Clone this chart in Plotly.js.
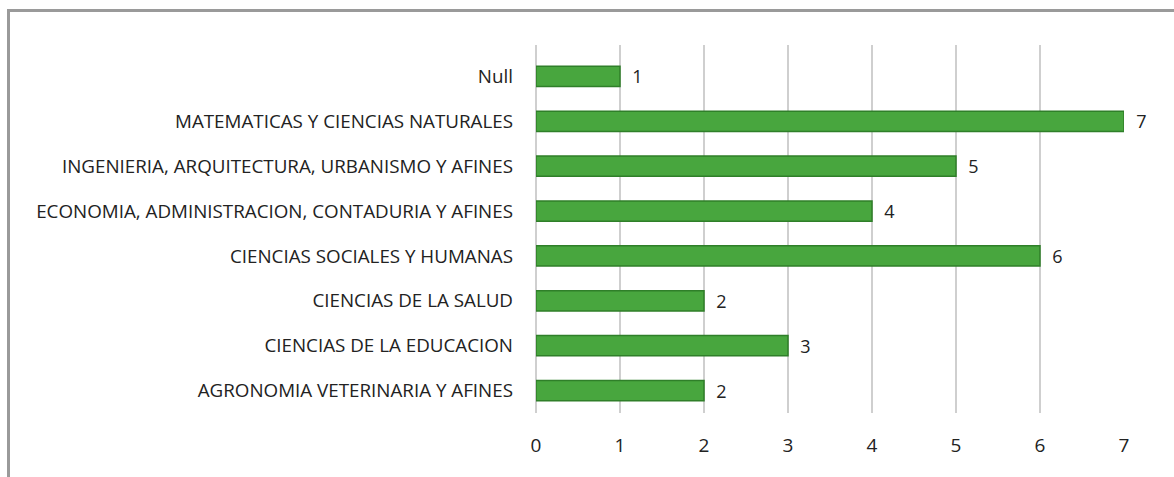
<!DOCTYPE html>
<html>
<head>
<meta charset="utf-8">
<script src="https://cdn.plot.ly/plotly-3.0.1.min.js"></script>
<style>
html,body{margin:0;padding:0;background:#fff;overflow:hidden;}
#frame{position:absolute;left:7px;top:9px;width:1180px;height:480px;border:3px solid #9a9a9a;box-sizing:border-box;pointer-events:none;z-index:5;}
#chart{position:absolute;left:0;top:0;width:1174px;height:477px;}
</style>
</head>
<body>
<div id="chart"></div>
<div id="frame"></div>
<script>
const categories = [
  "AGRONOMIA VETERINARIA Y AFINES",
  "CIENCIAS DE LA EDUCACION",
  "CIENCIAS DE LA SALUD",
  "CIENCIAS SOCIALES Y HUMANAS",
  "ECONOMIA, ADMINISTRACION, CONTADURIA Y AFINES",
  "INGENIERIA, ARQUITECTURA, URBANISMO Y AFINES",
  "MATEMATICAS Y CIENCIAS NATURALES",
  "Null"
];
const values = [2, 3, 2, 6, 4, 5, 7, 1];
const tickValues = [0, 1, 2, 3, 4, 5, 6, 7];

const trace = {
  type: 'bar',
  orientation: 'h',
  y: categories,
  x: values,
  texttemplate: '  %{x}',
  textposition: 'outside',
  constraintext: 'none',
  cliponaxis: false,
  textfont: {family: 'Open Sans, sans-serif', size: 18, color: '#222'},
  marker: {color: '#48a63e', line: {color: '#2f7f29', width: 1.5}},
  hoverinfo: 'x+y'
};

const layout = {
  width: 1174,
  height: 477,
  margin: {l: 536, r: 50, t: 45, b: 64},
  paper_bgcolor: 'rgba(0,0,0,0)',
  plot_bgcolor: 'rgba(0,0,0,0)',
  bargap: 0.55,
  showlegend: false,
  font: {family: 'Open Sans, sans-serif', color: '#222'},
  xaxis: {
    range: [0, 7],
    tickvals: tickValues,
    ticktext: tickValues.map(String),
    showgrid: true,
    gridcolor: '#cfcfcf',
    gridwidth: 2.5,
    zeroline: true,
    zerolinecolor: '#cfcfcf',
    zerolinewidth: 2.5,
    showline: false,
    ticks: '',
    tickfont: {size: 19, color: '#222'},
    ticklabelstandoff: 19,
    fixedrange: true
  },
  yaxis: {
    type: 'category',
    categoryorder: 'array',
    categoryarray: categories,
    range: [-0.5, 7.7],
    showgrid: false,
    zeroline: false,
    showline: false,
    ticks: '',
    tickfont: {size: 18.8, color: '#222'},
    ticklabelstandoff: 22,
    automargin: false,
    fixedrange: true
  }
};

Plotly.newPlot('chart', [trace], layout, {displayModeBar: false, staticPlot: true});
</script>
</body>
</html>
